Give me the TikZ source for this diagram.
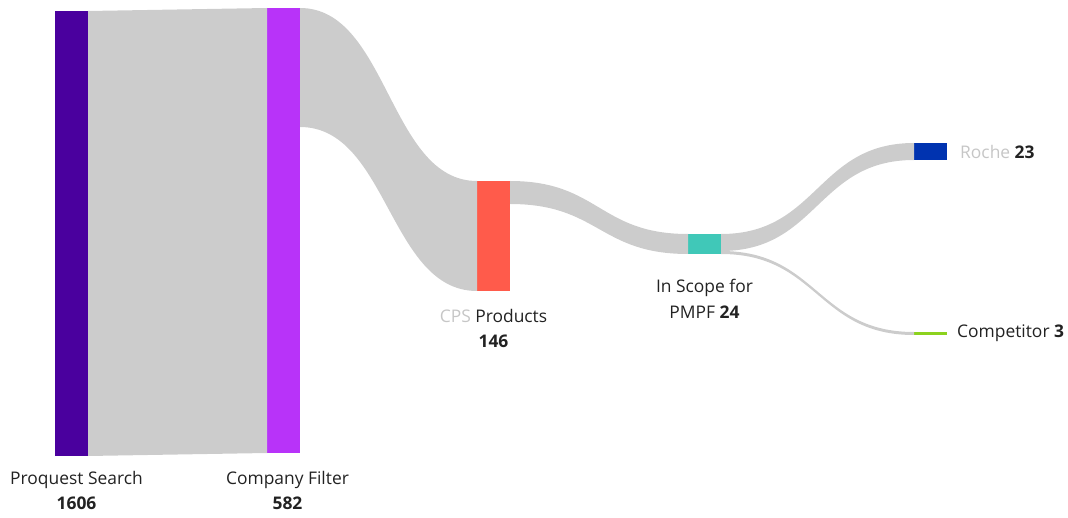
\documentclass[tikz,border=0pt]{standalone}
\usepackage{fontspec}
\setmainfont{Open Sans}
\usetikzlibrary{positioning}
\definecolor{pqcol}{HTML}{4A009E}
\definecolor{cfcol}{HTML}{B833F9}
\definecolor{cpscol}{HTML}{FF5B4B}
\definecolor{scopecol}{HTML}{40C8B8}
\definecolor{rochecol}{HTML}{0033B0}
\definecolor{compcol}{HTML}{8CD21E}
\definecolor{flowcol}{HTML}{CCCCCC}
\definecolor{txtcol}{HTML}{222222}
\tikzset{
    bar/.style = {
        rectangle,
        draw=none,
        inner sep=0pt,
        outer sep=0pt,
        minimum width=33pt,
        anchor=north west
    },
    flow/.style = {fill=flowcol, draw=none},
    lbl/.style = {
        align=center,
        inner sep=0pt,
        text=txtcol,
        font=\fontsize{17.4}{25.5}\selectfont
    }
}

\begin{document}
\begin{tikzpicture}[x=1pt, y=-1pt]
\useasboundingbox (0,0) rectangle (1068,518);

% Barres
\node[bar, fill=pqcol, minimum height=445pt] (pq) at (55,11) {};
\node[bar, fill=cfcol, minimum height=445pt] (cf) at (267,8) {};
\node[bar, fill=cpscol, minimum height=110pt] (cps) at (477,181) {};
\node[bar, fill=scopecol, minimum height=20pt] (scope) at (688,234) {};
\node[bar, fill=rochecol, minimum height=17pt] (roche) at (914,143) {};
\node[bar, fill=compcol, minimum height=3pt] (comp) at (914,332) {};

% Proquest -> Company
\fill[flow] (pq.north east) -- (cf.north west) -- (cf.south west) -- (pq.south east) -- cycle;

% Company -> CPS
\coordinate (cfcut) at ([yshift=-119pt]cf.north east);
\fill[flow] (cf.north east) .. controls +(88,0) and +(-88,0) .. (cps.north west)
    -- (cps.south west) .. controls +(-88,0) and +(88,0) .. (cfcut) -- cycle;

% CPS -> In Scope
\coordinate (cpscut) at ([yshift=-23pt]cps.north east);
\fill[flow] (cps.north east) .. controls +(89,0) and +(-89,0) .. (scope.north west)
    -- (scope.south west) .. controls +(-89,0) and +(89,0) .. (cpscut) -- cycle;

% In Scope -> Roche / Competitor
\coordinate (scopecut) at ([yshift=-17pt]scope.north east);
\fill[flow] (scope.north east) .. controls +(97,0) and +(-97,0) .. (roche.north west)
    -- (roche.south west) .. controls +(-97,0) and +(97,0) .. (scopecut) -- cycle;
\fill[flow] (scopecut) .. controls +(97,0) and +(-97,0) .. (comp.north west)
    -- (comp.south west) .. controls +(-97,0) and +(97,0) .. (scope.south east) -- cycle;

% Etiquettes
\node[lbl, below=15pt of pq, xshift=5pt] (pqlbl) {Proquest Search\\\textbf{1606}};
\node[lbl, below=18pt of cf, xshift=4pt] (cflbl) {Company Filter\\\textbf{582}};
\node[lbl, below=18pt of cps] (cpslbl) {\textcolor{gray!45}{CPS} Products\\\textbf{146}};
\node[lbl, below=25pt of scope] (scopelbl) {In Scope for\\PMPF \textbf{24}};
\node[lbl, right=13pt of roche] (rochelbl) {\textcolor{gray!45}{Roche} \textbf{23}};
\node[lbl, right=10pt of comp] (complbl) {Competitor \textbf{3}};

\end{tikzpicture}
\end{document}
